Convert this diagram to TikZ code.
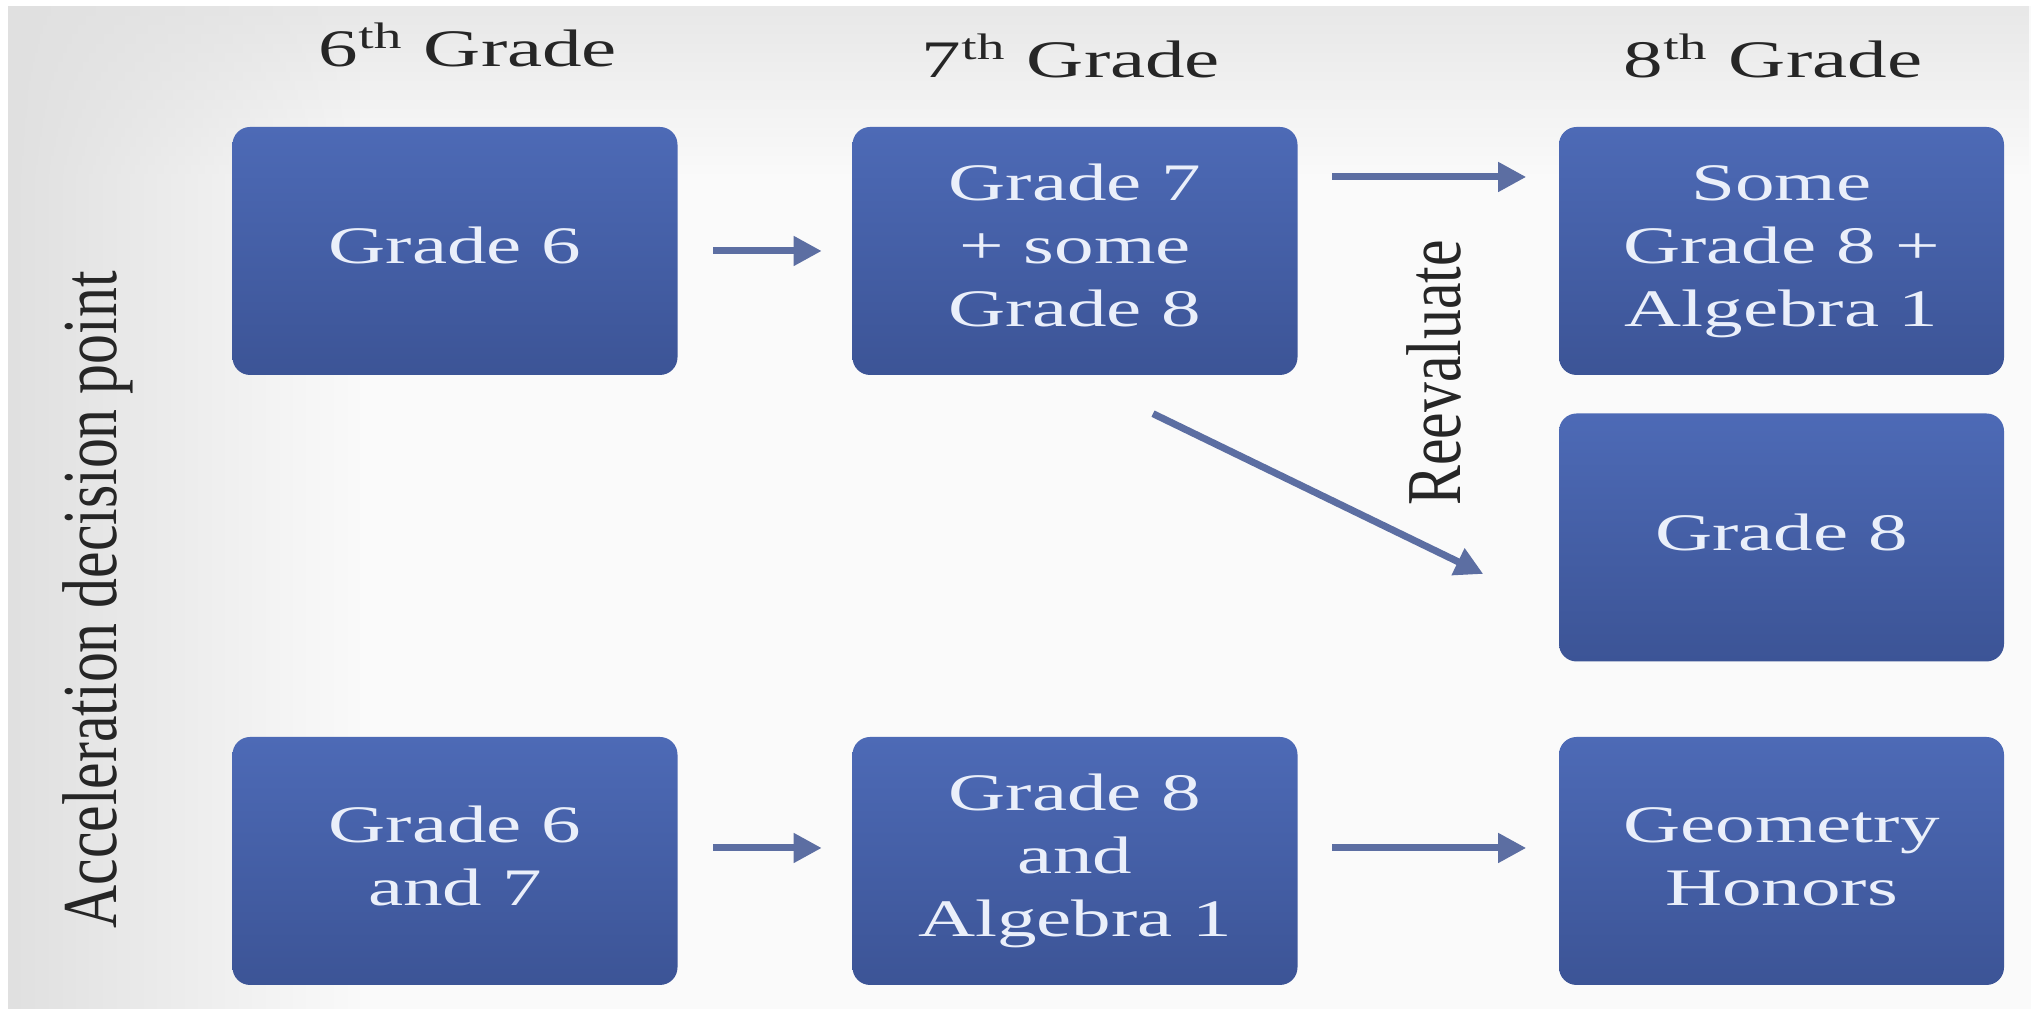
\documentclass[tikz,border=0pt]{standalone}
\usepackage{fontspec}
\setmainfont{Liberation Serif}
\usepackage{xcolor}
\usepackage{graphicx}
\usepackage{tikz}
\usetikzlibrary{calc}
\usetikzlibrary{arrows.meta}
\usetikzlibrary{positioning}
\usetikzlibrary{fadings}
\definecolor{boxtop}{RGB}{77,106,182}
\definecolor{boxbot}{RGB}{60,84,150}
\definecolor{flowblue}{RGB}{92,110,162}
\definecolor{boxtext}{RGB}{234,239,250}
\newcommand{\wide}[1]{\scalebox{1.5}[1]{\begin{tabular}{@{}c@{}}#1\end{tabular}}}
\newcommand{\tall}[1]{\scalebox{1}[1.3]{#1}}
\tikzset{>=latex}
\tikzset{gradebox/.style = {rectangle, rounded corners = 5pt, minimum width = 4.45cm, minimum height = 2.48cm, top color = boxtop, bottom color = boxbot, text = boxtext, inner sep = 0pt, font = \fontsize{15}{18}\selectfont}}
\tikzset{flow/.style = {-{Triangle[length = 8pt, width = 8pt]}, draw = flowblue, line width = 2pt}}
\tikzset{heading/.style = {font = \fontsize{15}{18}\selectfont, text = black!85, anchor = base}}
\tikzset{sidelabel/.style = {font = \fontsize{17}{20}\selectfont, text = black!85, rotate = 90}}

\begin{document}
\begin{tikzpicture}
\useasboundingbox (0, 0) rectangle (20.31, 10.14);
% background
\fill [white] (0, 0) rectangle (20.31, 10.14);
\fill [black!2] (0.08, 0.05) rectangle (20.31, 10.08);
\fill [black!9, path fading = south] (0.08, 8.4) rectangle (20.31, 10.08);
\fill [black!12, path fading = east] (0.08, 0.05) rectangle (3.6, 10.08);

% column headings
\node [heading] (h6) at (4.68, 9.47) {\wide{6\textsuperscript{th} Grade}};
\node [heading] (h7) at (10.71, 9.36) {\wide{7\textsuperscript{th} Grade}};
\node [heading] (h8) at (17.73, 9.36) {\wide{8\textsuperscript{th} Grade}};

% boxes
\node [gradebox] (g6) at (4.55, 7.63) {\wide{Grade 6}};
\node [gradebox] (g7) at (10.75, 7.63) {\wide{Grade 7\\+ some\\Grade 8}};
\node [gradebox] (g8a) at (17.815, 7.63) {\wide{Some\\Grade 8 +\\Algebra 1}};
\node [gradebox] (g8b) at (17.815, 4.765) {\wide{Grade 8}};
\node [gradebox] (g67) at (4.55, 1.53) {\wide{Grade 6\\and 7}};
\node [gradebox] (g8alg) at (10.75, 1.53) {\wide{Grade 8\\and\\Algebra 1}};
\node [gradebox] (geo) at (17.815, 1.53) {\wide{Geometry\\Honors}};

% side labels
\node [sidelabel] (accel) at (0.98, 4.14) {\tall{Acceleration decision point}};
\node [sidelabel] (reeval) at (14.34, 6.41) {\tall{Reevaluate}};

% arrows
\draw [flow, shorten < = 0.35cm, shorten > = 0.30cm] (g6) -- (g7);
\draw [flow, shorten < = 0.34cm, shorten > = 0.32cm] ([yshift = 0.74cm]g7.east) -- ([yshift = 0.74cm]g8a.west);
\draw [flow] ($(g7.south) + (0.78, -0.38)$) -- ($(g8b.west) + (-0.75, -0.365)$);
\draw [flow, shorten < = 0.35cm, shorten > = 0.30cm] ([yshift = 0.13cm]g67.east) -- ([yshift = 0.13cm]g8alg.west);
\draw [flow, shorten < = 0.34cm, shorten > = 0.32cm] ([yshift = 0.13cm]g8alg.east) -- ([yshift = 0.13cm]geo.west);
\end{tikzpicture}
\end{document}
